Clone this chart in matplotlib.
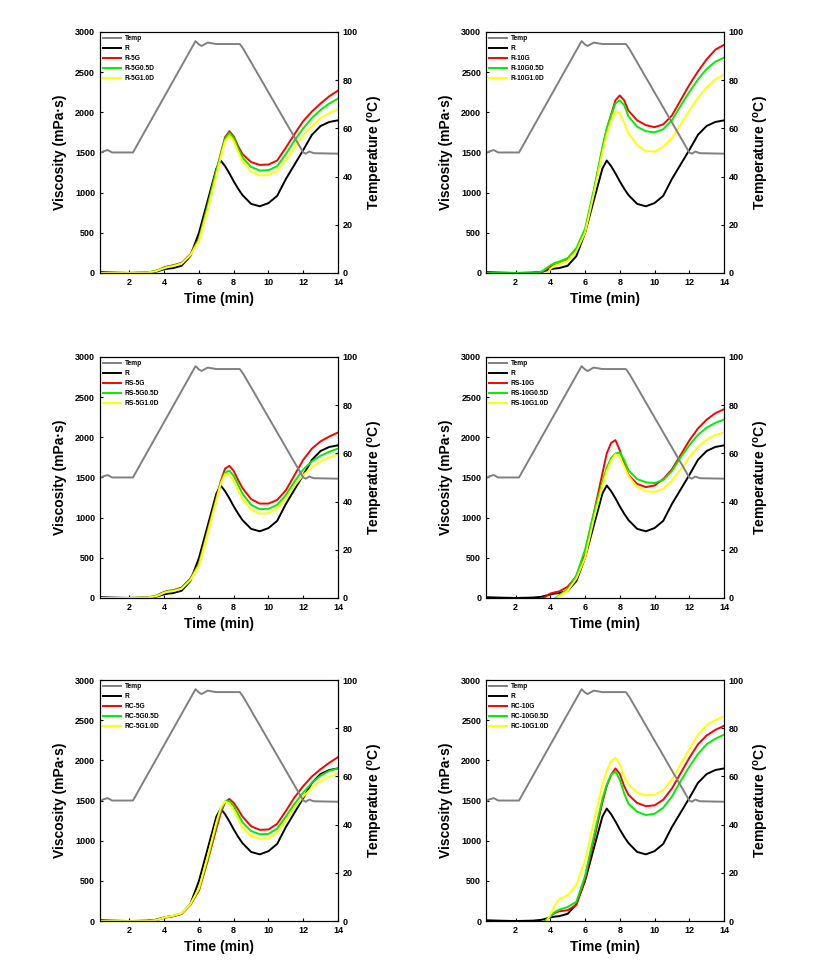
import numpy as np
import matplotlib
matplotlib.use('Agg')
import matplotlib.pyplot as plt
from matplotlib.lines import Line2D

nan = np.nan

# Time grid (min) used by all viscosity curves
t = [0.3, 1, 2, 3, 3.5, 3.75, 4, 4.25, 4.5, 5, 5.5, 6, 6.5, 7, 7.25, 7.5, 7.75,
     8, 8.25, 8.5, 9, 9.5, 10, 10.5, 11, 11.5, 12, 12.5, 13, 13.5, 14]

# Temperature profile (right axis)
temp_t = [0.3, 0.5, 0.75, 1.0, 2.2, 5.8, 6.0, 6.15, 6.5, 7.0, 8.0, 8.35, 8.55, 12.0, 12.15, 12.35, 12.6, 14.0]
temp = [49.7, 50.5, 51.0, 50.0, 50.0, 96.2, 94.8, 94.2, 95.6, 95.0, 95.0, 95.0, 93.0, 50.0, 49.5, 50.4, 49.7, 49.5]

# Control rice R (same in every panel)
visc_R = [10, 5, 0, 5, 15, 30, 45, 55, 60, 90, 210, 500, 900, 1300, 1400, 1330, 1240,
          1140, 1050, 970, 860, 830, 870, 960, 1170, 1350, 1530, 1720, 1830, 1880, 1900]

# R-5G series
r_5g = [0, 0, 0, 5, 25, 45, 70, 85, 95, 125, 230, 430, 840, 1280, 1480, 1690, 1765,
        1700, 1580, 1480, 1380, 1345, 1350, 1400, 1560, 1730, 1890, 2010, 2110, 2200, 2270]
r_5g05d = [0, 0, 0, 5, 25, 45, 65, 80, 90, 120, 225, 420, 830, 1270, 1470, 1670, 1745,
           1680, 1550, 1440, 1320, 1275, 1280, 1330, 1480, 1650, 1800, 1930, 2030, 2110, 2170]
r_5g10d = [0, 0, 0, 5, 20, 40, 60, 75, 85, 115, 220, 400, 790, 1220, 1440, 1640, 1710,
           1640, 1510, 1390, 1260, 1215, 1220, 1270, 1400, 1560, 1710, 1830, 1930, 1990, 2040]

# R-10G series
r_10g = [0, 0, 0, 0, 10, 40, 75, 100, 115, 160, 280, 520, 1000, 1550, 1790, 1970, 2150,
         2210, 2150, 2020, 1900, 1840, 1815, 1850, 1960, 2150, 2340, 2510, 2660, 2780, 2840]
r_10g05d = [0, 0, 0, 0, 15, 55, 95, 125, 140, 185, 310, 550, 1030, 1560, 1800, 1960, 2110,
            2150, 2090, 1950, 1820, 1765, 1750, 1790, 1900, 2080, 2250, 2410, 2540, 2630, 2680]
r_10g10d = [nan, nan, nan, nan, nan, -30, 50, 90, 110, 150, 270, 500, 980, 1500, 1730, 1900, 2010,
            1990, 1870, 1740, 1590, 1520, 1510, 1570, 1680, 1850, 2020, 2180, 2310, 2410, 2470]

# RS-5G series
rs_5g = [0, 0, 0, 5, 25, 50, 75, 90, 95, 130, 240, 430, 840, 1250, 1450, 1610, 1645,
         1580, 1470, 1370, 1230, 1175, 1175, 1220, 1340, 1530, 1720, 1860, 1950, 2010, 2060]
rs_5g05d = [0, 0, 0, 5, 25, 45, 70, 85, 90, 120, 230, 420, 820, 1230, 1430, 1560, 1585,
            1520, 1410, 1300, 1160, 1105, 1110, 1160, 1280, 1450, 1600, 1700, 1770, 1820, 1860]
rs_5g10d = [0, 0, 0, 5, 20, 40, 65, 80, 85, 115, 220, 400, 800, 1210, 1420, 1540, 1530,
            1450, 1340, 1230, 1100, 1050, 1055, 1110, 1240, 1400, 1530, 1630, 1700, 1750, 1790]

# RS-10G series
rs_10g = [nan, nan, nan, nan, -10, 20, 55, 70, 80, 140, 270, 560, 1050, 1550, 1800, 1930, 1965,
          1840, 1670, 1530, 1420, 1380, 1400, 1480, 1600, 1780, 1960, 2110, 2220, 2300, 2350]
rs_10g05d = [nan, nan, nan, nan, nan, nan, nan, -10, 30, 110, 280, 600, 1050, 1450, 1620, 1740, 1800,
             1810, 1720, 1590, 1480, 1440, 1430, 1470, 1580, 1750, 1900, 2030, 2120, 2180, 2220]
rs_10g10d = [nan, nan, nan, nan, nan, nan, nan, -20, 20, 90, 240, 500, 980, 1400, 1580, 1710, 1790,
             1760, 1640, 1520, 1380, 1330, 1320, 1360, 1460, 1600, 1750, 1880, 1970, 2030, 2060]

# RC-5G series
rc_5g = [0, 0, 0, 0, 10, 25, 40, 50, 60, 90, 200, 380, 750, 1150, 1340, 1480, 1520,
         1470, 1390, 1300, 1180, 1135, 1140, 1210, 1370, 1540, 1680, 1800, 1890, 1970, 2040]
rc_5g05d = [0, 0, 0, 0, 10, 25, 45, 55, 65, 95, 205, 400, 780, 1200, 1380, 1490, 1495,
            1430, 1330, 1230, 1120, 1080, 1085, 1150, 1300, 1460, 1600, 1720, 1810, 1870, 1900]
rc_5g10d = [0, 0, 0, 0, 10, 25, 45, 55, 65, 95, 210, 410, 800, 1230, 1410, 1490, 1460,
            1380, 1270, 1160, 1060, 1025, 1030, 1100, 1250, 1410, 1550, 1660, 1740, 1800, 1840]

# RC-10G series
rc_10g = [nan, nan, nan, nan, -40, 10, 60, 100, 120, 135, 200, 520, 1000, 1480, 1680, 1820, 1900,
          1830, 1680, 1570, 1470, 1430, 1440, 1510, 1650, 1840, 2030, 2200, 2310, 2380, 2430]
rc_10g05d = [nan, nan, nan, nan, -40, 10, 60, 110, 140, 175, 240, 560, 1050, 1520, 1700, 1820, 1860,
             1760, 1590, 1460, 1360, 1320, 1335, 1410, 1550, 1740, 1920, 2080, 2200, 2270, 2320]
rc_10g10d = [nan, nan, nan, nan, nan, -20, 80, 190, 270, 320, 450, 750, 1230, 1700, 1870, 1990, 2030,
             1950, 1800, 1700, 1600, 1565, 1570, 1630, 1760, 1950, 2140, 2320, 2440, 2500, 2550]

panel_names = ['R-5G', 'R-10G', 'RS-5G', 'RS-10G', 'RC-5G', 'RC-10G']
panel_data = [(r_5g, r_5g05d, r_5g10d), (r_10g, r_10g05d, r_10g10d),
              (rs_5g, rs_5g05d, rs_5g10d), (rs_10g, rs_10g05d, rs_10g10d),
              (rc_5g, rc_5g05d, rc_5g10d), (rc_10g, rc_10g05d, rc_10g10d)]

plt.rcParams['font.family'] = 'Liberation Sans'
plt.rcParams['font.weight'] = 'bold'
plt.rcParams['mathtext.fontset'] = 'custom'
plt.rcParams['mathtext.rm'] = 'Liberation Sans:bold'
plt.rcParams['mathtext.it'] = 'Liberation Sans:bold'
plt.rcParams['mathtext.bf'] = 'Liberation Sans:bold'

fig = plt.figure(figsize=(8.16, 9.69), dpi=100)

lefts = [0.1225, 0.5956]
bottoms = [0.7183, 0.3829, 0.0495]
w, h = 0.2917, 0.2487

colors = ['red', '#00ee00', '#ffff00']
lw = 1.4

for k in range(6):
    row, col = k // 2, k % 2
    ax1 = fig.add_axes([lefts[col], bottoms[row], w, h])
    ax2 = ax1.twinx()

    ax1.plot(t, visc_R, color='black', lw=lw)
    for j in range(3):
        ax1.plot(t, panel_data[k][j], color=colors[j], lw=lw)
    ax2.plot(temp_t, temp, color='#808080', lw=lw)

    ax1.set_xlim(0.3, 14)
    ax1.set_ylim(0, 3000)
    ax2.set_ylim(0, 100)
    ax1.set_xticks(np.arange(2, 15, 2))
    ax1.set_yticks(np.arange(0, 3001, 500))
    ax2.set_yticks(np.arange(0, 101, 20))

    for a in (ax1, ax2):
        a.tick_params(direction='in', length=2.5, width=0.8, labelsize=6.5, pad=3.5)
        for s in a.spines.values():
            s.set_linewidth(0.8)

    ax1.set_xlabel('Time (min)', fontsize=10, fontweight='bold', labelpad=4)
    ax1.set_ylabel('Viscosity (mPa\u00b7s)', fontsize=10, fontweight='bold', labelpad=6)
    ax2.set_ylabel(r'Temperature ($^{o}$C)', fontsize=10, fontweight='bold', labelpad=6)

    name = panel_names[k]
    handles = [Line2D([], [], color='#808080', lw=lw),
               Line2D([], [], color='black', lw=lw),
               Line2D([], [], color=colors[0], lw=lw),
               Line2D([], [], color=colors[1], lw=lw),
               Line2D([], [], color=colors[2], lw=lw)]
    labels = ['Temp', 'R', name, name + '0.5D', name + '1.0D']
    ax2.legend(handles, labels, loc='upper left', frameon=False, fontsize=4.8,
               handlelength=2.6, handletextpad=0.6, labelspacing=0.45,
               borderaxespad=0.2, borderpad=0.3)

plt.savefig('out.png', dpi=100)
